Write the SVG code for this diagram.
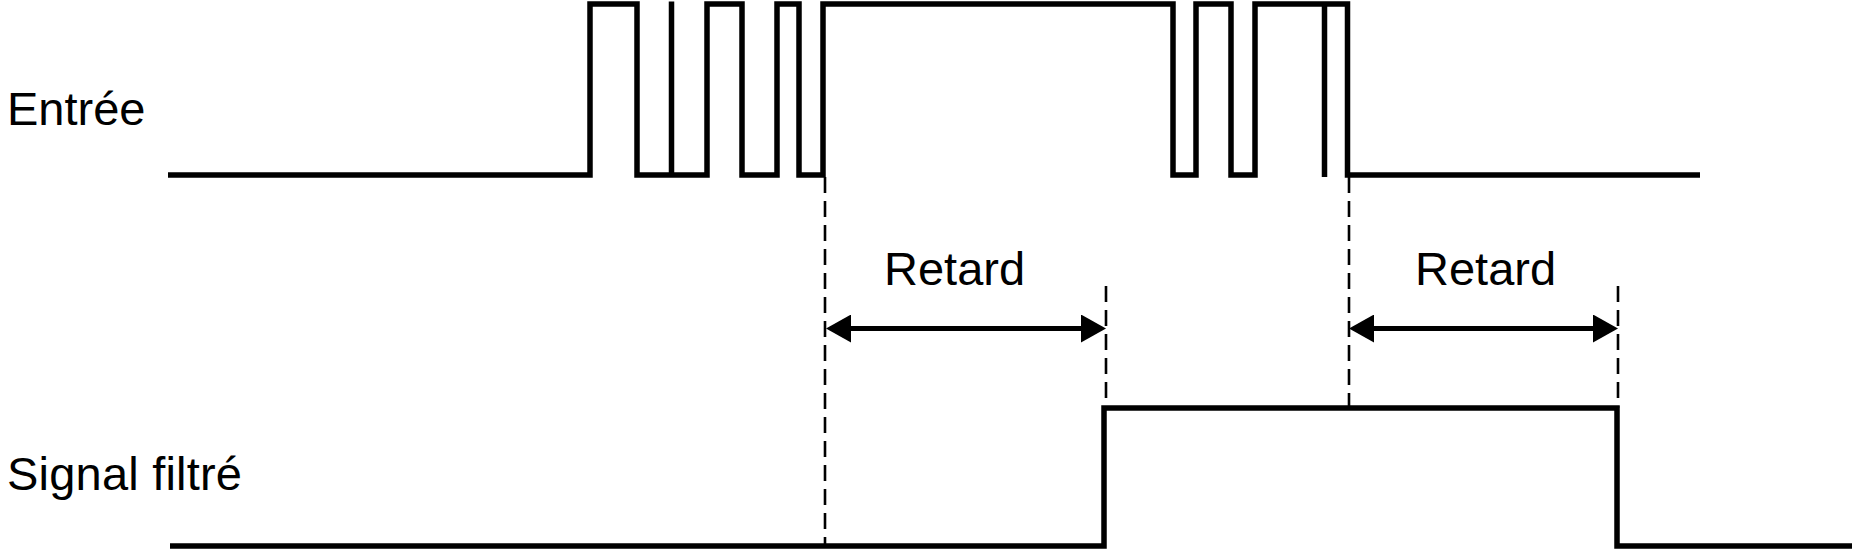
<svg xmlns="http://www.w3.org/2000/svg" width="1854" height="552" viewBox="0 0 1854 552">
  <style>
    .lbl { font-family: "Liberation Sans", Arial, sans-serif; font-size: 47px; fill: #000; }
    .sig { fill: none; stroke: #000; stroke-width: 5.5; stroke-linejoin: miter; stroke-linecap: butt; }
    .dash { fill: none; stroke: #000; stroke-width: 2.6; stroke-dasharray: 16 8; }
    .dim { fill: none; stroke: #000; stroke-width: 5; marker-start: url(#ah); marker-end: url(#ah); }
  </style>
  <defs>
    <marker id="ah" markerUnits="userSpaceOnUse" viewBox="0 0 25 28" markerWidth="25" markerHeight="28" refX="11" refY="14" orient="auto-start-reverse">
      <path d="M0,0 L25,14 L0,28 Z" fill="#000"/>
    </marker>
  </defs>
  <rect width="1854" height="552" fill="#fff"/>

  <g id="entree">
    <text class="lbl" x="7" y="125">Entrée</text>
    <path class="sig" d="M168,175 H590 V4 H637 V175 H707 V4 H742 V175 H777 V4 H799 V175 H823 V4 H1173 V175 H1196 V4 H1231 V175 H1255 V4 H1347.5 V175 H1700"/>
    <path class="sig" d="M671.5,1.5 V175"/>
    <path class="sig" d="M1324.5,4 V177"/>
  </g>

  <g id="signal-filtre">
    <text class="lbl" x="7" y="490" textLength="235">Signal filtré</text>
    <path class="sig" d="M170,546 H1104 V408 H1617 V546 H1852"/>
  </g>

  <g id="retard-1">
    <text class="lbl" x="884" y="285">Retard</text>
  </g>
  <g id="retard-2">
    <text class="lbl" x="1415" y="285">Retard</text>
  </g>

  <g id="connectors">
    <line class="dash" x1="825" y1="177" x2="825" y2="546"/>
    <line class="dash" x1="1106" y1="286" x2="1106" y2="408"/>
    <line class="dash" x1="1349" y1="177" x2="1349" y2="408"/>
    <line class="dash" x1="1618" y1="286" x2="1618" y2="408"/>
    <line class="dim" x1="840" y1="328.5" x2="1092" y2="328.5"/>
    <line class="dim" x1="1363" y1="328.5" x2="1604" y2="328.5"/>
  </g>
</svg>
